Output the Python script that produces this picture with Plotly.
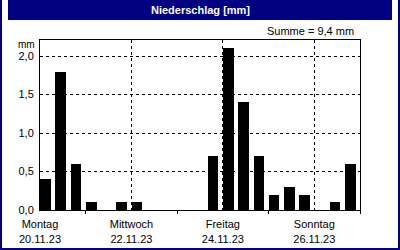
import plotly.graph_objects as go
import pandas as pd

# Data: 8-hour precipitation sums (mm), slot start times
slot_starts = pd.date_range("2023-11-20 00:00", periods=21, freq="8h")
precip = [0.4, 1.8, 0.6, 0.1, 0.0, 0.1, 0.1, 0.0, 0.0, 0.0, 0.0,
          0.7, 2.1, 1.4, 0.7, 0.2, 0.3, 0.2, 0.0, 0.1, 0.6]
tick_dates = ["2023-11-20", "2023-11-22", "2023-11-24", "2023-11-26"]
tick_days = ["Montag", "Mittwoch", "Freitag", "Sonntag"]
tick_dates_label = ["20.11.23", "22.11.23", "24.11.23", "26.11.23"]
y_ticks = [0.0, 0.5, 1.0, 1.5, 2.0]
title = "Niederschlag [mm]"
total = "Summe = 9,4 mm"

FONT = "Liberation Sans"
NAVY = "#000080"

hour_ms = 3600 * 1000
bar_x = [t + pd.Timedelta(hours=2.9) for t in slot_starts]

fig = go.Figure()
fig.add_trace(go.Bar(
    x=bar_x, y=precip,
    width=5.6 * hour_ms,
    marker=dict(color="black", line=dict(width=0)),
    hoverinfo="skip",
))

fig.update_layout(
    width=400, height=250,
    margin=dict(l=40, r=40, t=40, b=40),
    paper_bgcolor="white", plot_bgcolor="white",
    showlegend=False,
    separators=",.",
    font=dict(family=FONT, size=11, color="black"),
    bargap=0,
)

fig.update_xaxes(
    type="date",
    range=["2023-11-20 00:00", "2023-11-27 00:00"],
    tickvals=tick_dates,
    ticktext=[f"{d}<br>{l}" for d, l in zip(tick_days, tick_dates_label)],
    ticks="", ticklabelstandoff=4, automargin=False,
    showgrid=True, gridcolor="black", griddash="3px,3px", gridwidth=1,
    showline=True, linecolor="black", linewidth=1, mirror=True,
    minor=dict(ticks="outside", ticklen=3, tickcolor="black",
               dtick=2 * 86400000, tick0="2023-11-21", showgrid=False),
    tickfont=dict(size=11, family=FONT),
    fixedrange=True,
)
fig.update_yaxes(
    range=[0, 2.21],
    tickvals=y_ticks, tickformat=".1f",
    ticks="", ticklabelstandoff=3, automargin=False,
    showgrid=True, gridcolor="black", griddash="3px,3px", gridwidth=1,
    zeroline=False,
    showline=True, linecolor="black", linewidth=1, mirror=True,
    tickfont=dict(size=11, family=FONT),
    fixedrange=True,
)

# frame: title bar and navy border
fig.add_shape(type="rect", xref="paper", yref="paper", x0=-0.1, x1=1.1,
              y0=1 + 20 / 170, y1=1 + 40 / 170, fillcolor=NAVY,
              line=dict(width=0), layer="below")
shapes_border = [
    dict(x0=-40 / 320, x1=-38 / 320, y0=-40 / 170, y1=1 + 40 / 170),
    dict(x0=1 + 38 / 320, x1=1 + 40 / 320, y0=-40 / 170, y1=1 + 40 / 170),
    dict(x0=-40 / 320, x1=1 + 40 / 320, y0=-40 / 170, y1=-38 / 170),
]
for s in shapes_border:
    fig.add_shape(type="rect", xref="paper", yref="paper", fillcolor=NAVY,
                  line=dict(width=0), **s)

fig.add_annotation(text=f"<b>{title}</b>", xref="paper", yref="paper",
                   x=0.5, y=1 + 30 / 170, xanchor="center", yanchor="middle",
                   showarrow=False, font=dict(color="white", size=11, family=FONT))
fig.add_annotation(text=total, xref="paper", yref="paper",
                   x=1 - 4 / 320, y=1 + 9 / 170, xanchor="right", yanchor="middle",
                   showarrow=False, font=dict(size=11, family=FONT))
fig.add_annotation(text="mm", xref="paper", yref="paper",
                   x=-3 / 320, y=1 - 4 / 170, xanchor="right", yanchor="middle",
                   showarrow=False, font=dict(size=10, family=FONT))

fig.write_html("out.html", config=dict(displayModeBar=False))
